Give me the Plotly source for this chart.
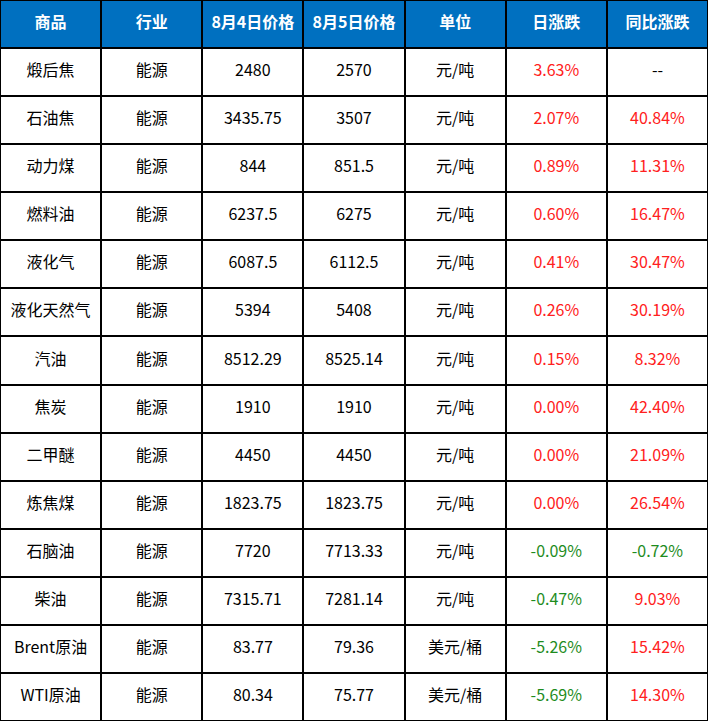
import plotly.graph_objects as go

headers = ["商品", "行业", "8月4日价格", "8月5日价格", "单位", "日涨跌", "同比涨跌"]

goods = ["煅后焦", "石油焦", "动力煤", "燃料油", "液化气", "液化天然气", "汽油",
         "焦炭", "二甲醚", "炼焦煤", "石脑油", "柴油", "Brent原油", "WTI原油"]
industry = ["能源"] * len(goods)
price_0804 = ["2480", "3435.75", "844", "6237.5", "6087.5", "5394", "8512.29",
              "1910", "4450", "1823.75", "7720", "7315.71", "83.77", "80.34"]
price_0805 = ["2570", "3507", "851.5", "6275", "6112.5", "5408", "8525.14",
              "1910", "4450", "1823.75", "7713.33", "7281.14", "79.36", "75.77"]
units = ["元/吨"] * 12 + ["美元/桶"] * 2
day_change = ["3.63%", "2.07%", "0.89%", "0.60%", "0.41%", "0.26%", "0.15%",
              "0.00%", "0.00%", "0.00%", "-0.09%", "-0.47%", "-5.26%", "-5.69%"]
yoy_change = ["--", "40.84%", "11.31%", "16.47%", "30.47%", "30.19%", "8.32%",
              "42.40%", "21.09%", "26.54%", "-0.72%", "9.03%", "15.42%", "14.30%"]

columns = [goods, industry, price_0804, price_0805, units, day_change, yoy_change]
n_rows = len(goods) + 1
n_cols = len(headers)


# change columns: negative -> green, positive -> red, "--" -> black
def change_color(v):
    if v == "--":
        return "black"
    if v.startswith("-"):
        return "#1e8c1e"
    return "#ff2020"


# background grid: row 0 is the header
z = [[1] * n_cols] + [[0] * n_cols for _ in goods]

xs, ys, texts, colors = [], [], [], []
for j, h in enumerate(headers):
    xs.append(j)
    ys.append(0)
    texts.append("<b>" + h + "</b>")
    colors.append("white")
for j, col in enumerate(columns):
    for i, v in enumerate(col):
        xs.append(j)
        ys.append(i + 1)
        texts.append(v)
        colors.append(change_color(v) if j >= 5 else "black")

fig = go.Figure()
fig.add_trace(go.Heatmap(
    z=z,
    x=list(range(n_cols)),
    y=list(range(n_rows)),
    colorscale=[[0, "white"], [1, "#0070c0"]],
    zmin=0, zmax=1,
    showscale=False,
    xgap=2, ygap=2,
    hoverinfo="skip",
))
fig.add_trace(go.Scatter(
    x=xs, y=ys, text=texts,
    mode="text",
    textposition="middle center",
    textfont=dict(color=colors, size=16, family="Noto Sans CJK SC"),
    hoverinfo="skip",
))

fig.update_xaxes(visible=False, range=[-0.5, n_cols - 0.5], fixedrange=True)
fig.update_yaxes(visible=False, range=[n_rows - 0.5, -0.5], fixedrange=True)
fig.update_layout(width=708, height=721, margin=dict(l=0, r=0, t=0, b=0),
                  plot_bgcolor="black", paper_bgcolor="white", showlegend=False)

fig.write_html("out.html", config={"displayModeBar": False},
               post_script="document.body.style.margin='0';")
